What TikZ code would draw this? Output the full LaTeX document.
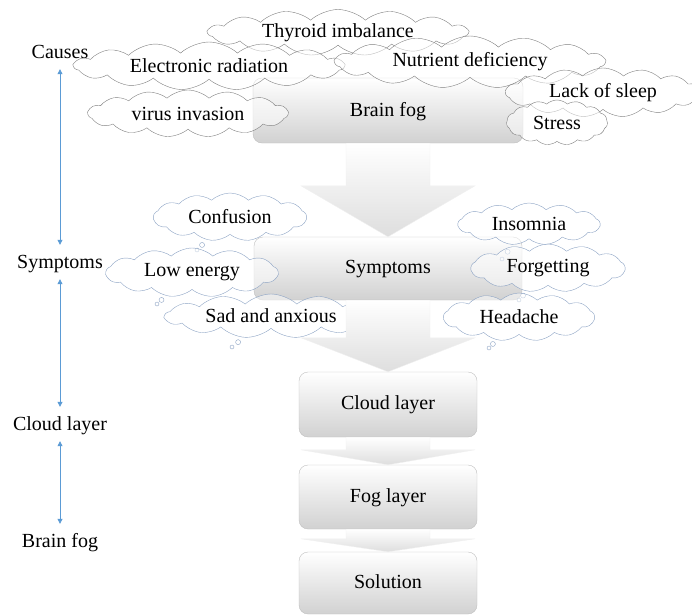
\documentclass[tikz,border=0pt]{standalone}
\usepackage{fontspec}
\setmainfont{Liberation Serif}
\usetikzlibrary{shapes.symbols,shapes.callouts,arrows.meta}
\definecolor{sideblue}{HTML}{5B9BD5}
\definecolor{cloudgray}{HTML}{808080}
\definecolor{cloudblue}{HTML}{8CA3C4}

% block arrow from the bottom of #1 to the top of #2, head length #3
\newcommand{\flowarrow}[3]{%
  \path[blockarrow] ([xshift=-42pt]#1.south) -- ([xshift=-42pt,yshift=#3]#2.north)
    -- ([xshift=-87pt,yshift=#3]#2.north) -- (#2.north)
    -- ([xshift=87pt,yshift=#3]#2.north) -- ([xshift=42pt,yshift=#3]#2.north)
    -- ([xshift=42pt]#1.south) -- cycle;}

\begin{document}
\begin{tikzpicture}[x=1pt, y=-1pt, font=\fontsize{20}{24}\selectfont,
  stage/.style={draw=black!25, rounded corners=9pt, top color=white, bottom color=black!18, minimum width=178pt, minimum height=64pt, text depth=3pt},
  cause/.style={cloud, cloud puffs=15, cloud puff arc=85, cloud ignores aspect, draw=cloudgray, fill=white, fill opacity=.5, text opacity=1, inner sep=0pt},
  symp/.style={cloud callout, cloud puffs=13, cloud puff arc=85, cloud ignores aspect, draw=cloudblue, fill=white, fill opacity=.5, text opacity=1, inner sep=0pt,
    callout pointer segments=2, callout pointer start size=8pt and 6pt, callout pointer end size=5pt and 4pt},
  lbl/.style={inner sep=0pt, text height=14pt, text depth=4pt},
  side/.style={draw=sideblue, line width=.8pt, {Triangle[width=5pt,length=5pt]}-{Triangle[width=5pt,length=5pt]}, shorten <=7pt, shorten >=9pt},
  blockarrow/.style={top color=white, bottom color=black!13, draw=black!6}]
  \useasboundingbox (0,0) rectangle (692,614);

  \node[lbl] (lcause) at (60,53) {Causes};
  \node[lbl] (lsymp) at (60,263) {Symptoms};
  \node[lbl] (lcloud) at (60,425) {Cloud layer};
  \node[lbl] (lbrain) at (60,542) {Brain fog};
  \draw[side] (lcause) -- (lsymp);
  \draw[side] (lsymp) -- (lcloud);
  \draw[side] (lcloud) -- (lbrain);

  \node[stage, minimum width=270pt, minimum height=65pt] (brain) at (388,110.5) {Brain fog};
  \node[stage, minimum width=268pt, minimum height=63pt] (symp) at (388,268.5) {Symptoms};
  \node[stage, minimum height=65pt] (cloud) at (388,404.5) {Cloud layer};
  \node[stage] (fog) at (388,497) {Fog layer};
  \node[stage, minimum height=62pt] (sol) at (388,583) {Solution};

  \node[cause, minimum width=260pt, minimum height=46pt] (c1) at (338,32.5) {Thyroid imbalance};
  \node[cause, minimum width=270pt, minimum height=48pt] (c2) at (209,66) {Electronic radiation};
  \node[cause, minimum width=270pt, minimum height=52pt] (c3) at (470,62) {Nutrient deficiency};
  \node[cause, minimum width=200pt, minimum height=47pt] (c4) at (188,113.5) {virus invasion};
  \node[cause, minimum width=195pt, minimum height=49pt] (c5) at (603,92.5) {Lack of sleep};
  \node[cause, minimum width=101pt, minimum height=45pt] (c6) at (557,122.5) {Stress};

  \node[symp, minimum width=153pt, minimum height=48pt, callout absolute pointer={(197,250)}] (s1) at (230,217) {Confusion};
  \node[symp, minimum width=172pt, minimum height=49pt, callout absolute pointer={(157,304)}] (s2) at (192,272.5) {Low energy};
  \node[symp, minimum width=212pt, minimum height=44pt, callout absolute pointer={(232,347)}] (s3) at (271,316) {Sad and anxious};
  \node[symp, minimum width=142pt, minimum height=42pt, callout absolute pointer={(502,259)}] (s4) at (529,224) {Insomnia};
  \node[symp, minimum width=154pt, minimum height=48pt, callout absolute pointer={(519,300)}] (s5) at (548,268) {Forgetting};
  \node[symp, minimum width=151pt, minimum height=48pt, callout absolute pointer={(489,348)}] (s6) at (519,317) {Headache};

  \flowarrow{brain}{symp}{51pt}
  \flowarrow{symp}{cloud}{34pt}
  \flowarrow{cloud}{fog}{15pt}
  \flowarrow{fog}{sol}{13pt}
\end{tikzpicture}
\end{document}
